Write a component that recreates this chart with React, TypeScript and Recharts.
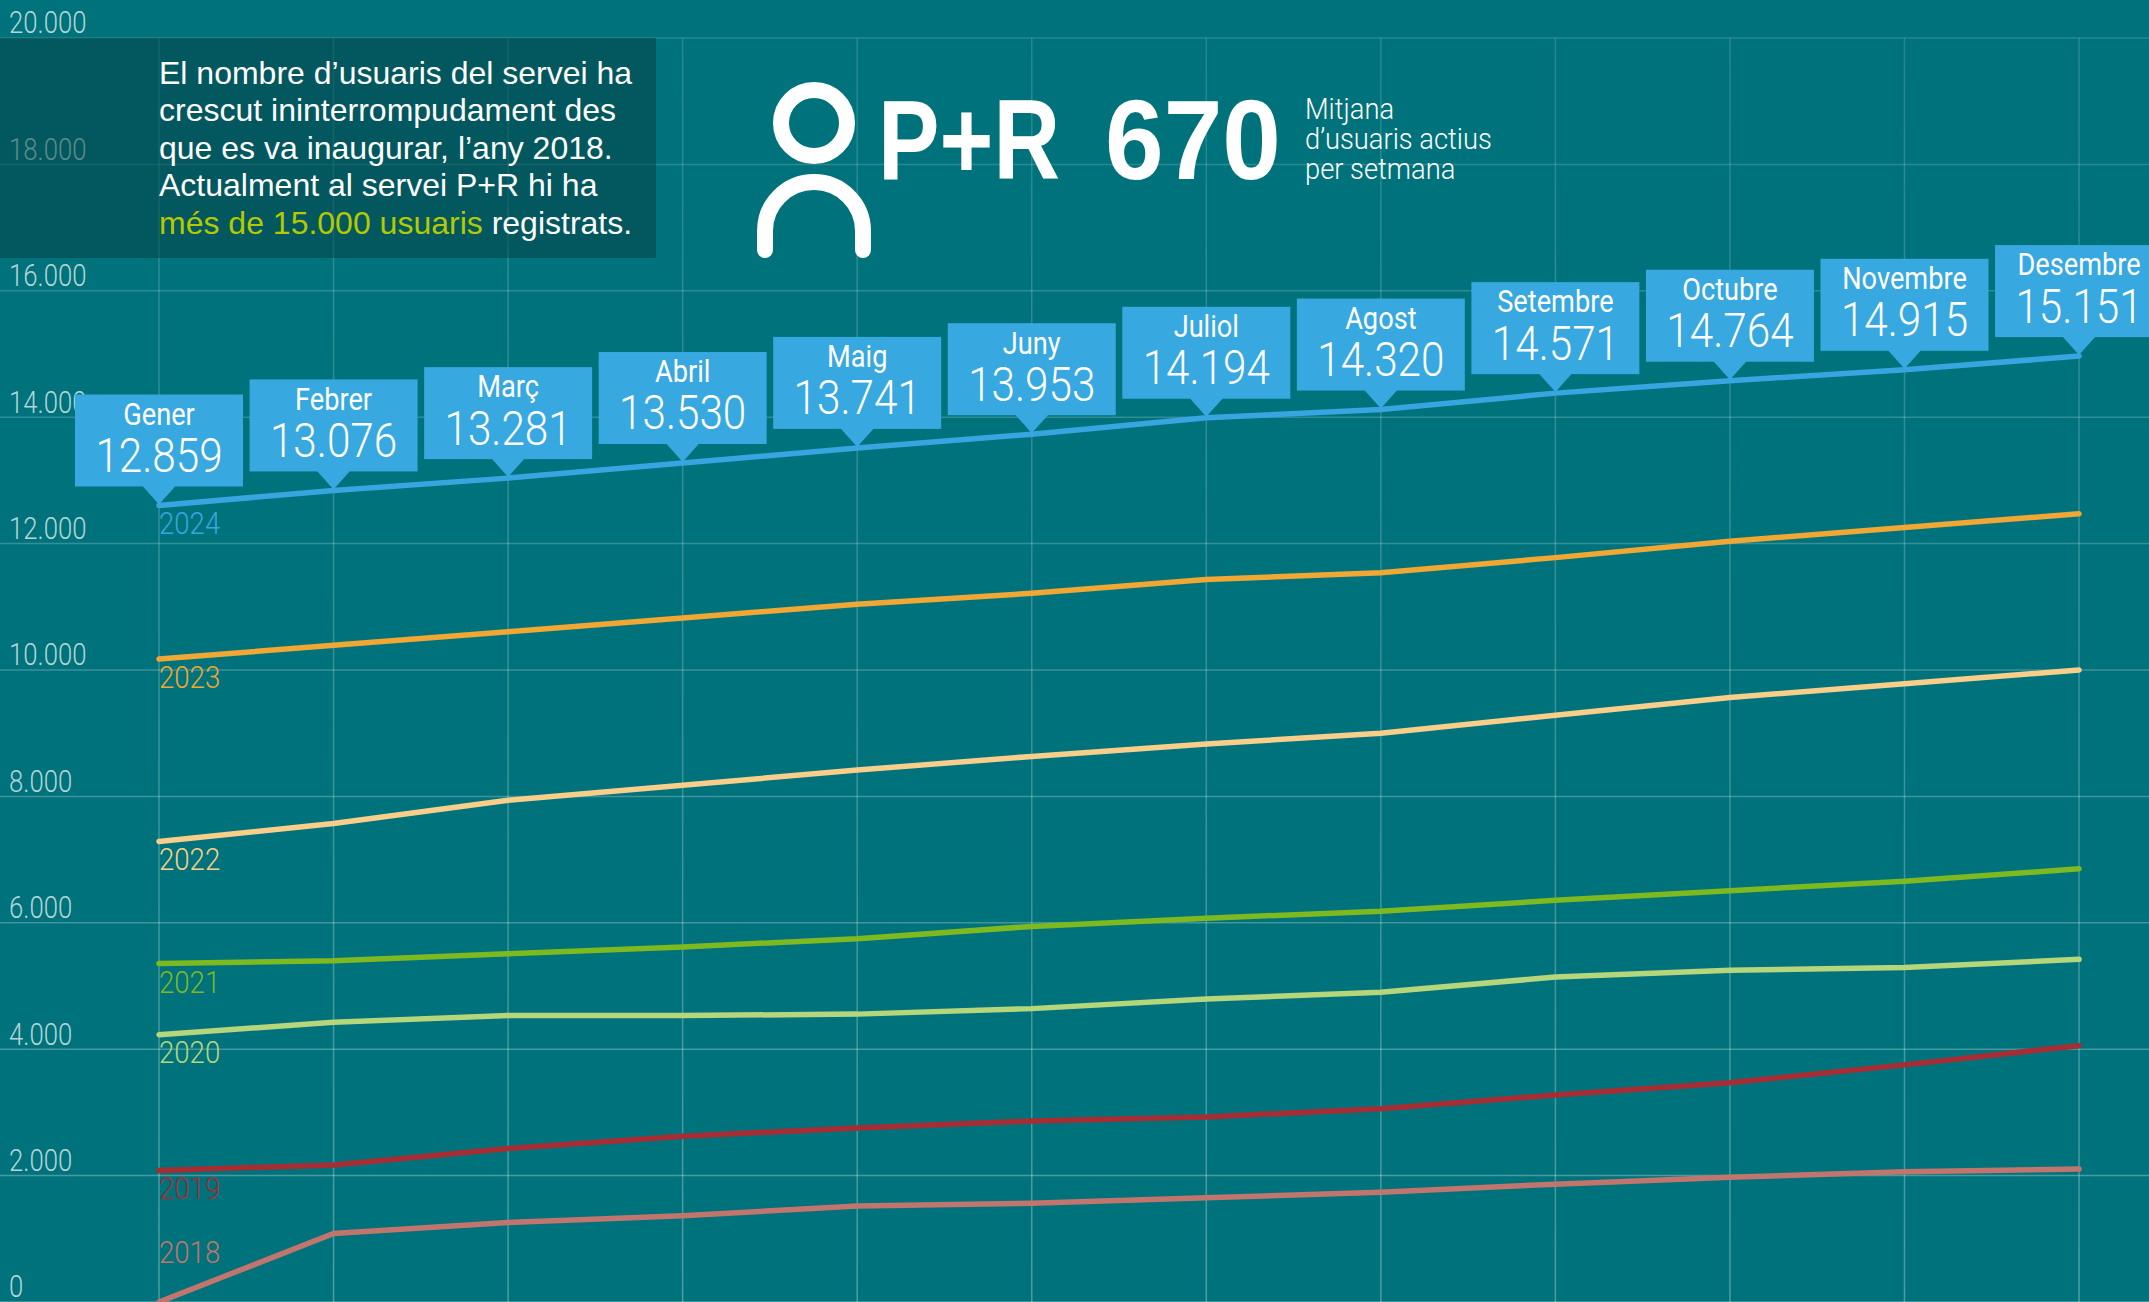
import React from "react";
import { LineChart, Line, XAxis, YAxis, CartesianGrid, LabelList, ReferenceLine } from "recharts";

const W = 2149;
const H = 1302;
const months = ["Gener", "Febrer", "Març", "Abril", "Maig", "Juny", "Juliol", "Agost", "Setembre", "Octubre", "Novembre", "Desembre"];
const published2024 = ["12.859", "13.076", "13.281", "13.530", "13.741", "13.953", "14.194", "14.320", "14.571", "14.764", "14.915", "15.151"];
const s2024 = [12603, 12841, 13036, 13275, 13514, 13731, 13991, 14121, 14381, 14577, 14750, 14967];
const s2023 = [10173, 10390, 10606, 10823, 11040, 11214, 11431, 11539, 11778, 12038, 12255, 12472];
const s2022 = [7288, 7570, 7939, 8177, 8416, 8633, 8828, 9001, 9283, 9565, 9782, 9999];
const s2021 = [5357, 5401, 5509, 5618, 5748, 5943, 6073, 6182, 6355, 6507, 6659, 6854];
const s2020 = [4230, 4425, 4533, 4533, 4555, 4642, 4793, 4902, 5141, 5249, 5292, 5423];
const s2019 = [2082, 2169, 2429, 2624, 2755, 2863, 2928, 3058, 3275, 3470, 3752, 4056];
const s2018 = [0, 1084, 1258, 1366, 1518, 1562, 1648, 1735, 1865, 1974, 2060, 2104];
const yTicks = [0, 2000, 4000, 6000, 8000, 10000, 12000, 14000, 16000, 18000, 20000];
const yLabels = ["0", "2.000", "4.000", "6.000", "8.000", "10.000", "12.000", "14.000", "16.000", "18.000", "20.000"];
const introLines = ["El nombre d’usuaris del servei ha", "crescut ininterrompudament des", "que es va inaugurar, l’any 2018.", "Actualment al servei P+R hi ha"];
const statLines = ["Mitjana", "d’usuaris actius", "per setmana"];

const seriesList = [
  { year: "2018", key: "s2018", values: s2018, color: "#c2756c", dy: -50 },
  { year: "2019", key: "s2019", values: s2019, color: "#a52d33", dy: 18 },
  { year: "2020", key: "s2020", values: s2020, color: "#b5d67a", dy: 18 },
  { year: "2021", key: "s2021", values: s2021, color: "#7db91f", dy: 19 },
  { year: "2022", key: "s2022", values: s2022, color: "#f8cf8a", dy: 18 },
  { year: "2023", key: "s2023", values: s2023, color: "#f0a733", dy: 18 },
  { year: "2024", key: "s2024", values: s2024, color: "#37a6e0", dy: 18 },
];

const table = months.map((month, i) => {
  const row: Record<string, number | string> = { i, month };
  seriesList.forEach((s) => { row[s.key] = s.values[i]; });
  return row;
});

const monthIndex = months.map((_, i) => i);
const STEP = 174.55;
const X0 = 159;
const xDomain = [-X0 / STEP, (W - X0) / STEP];
const FONT = "Roboto, 'Liberation Sans', sans-serif";

function Squeezed({ x, y, sx, size, fill, weight = 300, anchor = "middle", children }: any) {
  return (
    <text
      transform={`translate(${x},${y}) scale(${sx},1)`}
      textAnchor={anchor}
      dominantBaseline="central"
      fontFamily={FONT}
      fontWeight={weight}
      fontSize={size}
      fill={fill}
    >
      {children}
    </text>
  );
}

function YTick({ y, payload }: any) {
  const idx = yTicks.indexOf(payload.value);
  return (
    <Squeezed x={9} y={y - 15} sx={0.83} size={31} fill="#b4d6d8" anchor="start">
      {yLabels[idx]}
    </Squeezed>
  );
}

function Callout({ x, y, index }: any) {
  const w = 168;
  const h = 92;
  const gap = 19;
  const top = y - gap - h;
  return (
    <g>
      <rect x={x - w / 2} y={top} width={w} height={h} fill="#37a8e0" />
      <polygon points={`${x - 17},${top + h - 1} ${x + 17},${top + h - 1} ${x},${y - 1}`} fill="#37a8e0" />
      <Squeezed x={x} y={top + 19} sx={0.85} size={32} fill="#ffffff" weight={400}>{months[index]}</Squeezed>
      <Squeezed x={x} y={top + 61} sx={0.88} size={48} fill="#ffffff">{published2024[index]}</Squeezed>
    </g>
  );
}

function yearLabel(year: string, color: string, dy: number) {
  return function YearLabel({ x, y, index }: any) {
    if (index !== 0) return null;
    return (
      <Squeezed x={x} y={y + dy} sx={0.89} size={31} fill={color} anchor="start">{year}</Squeezed>
    );
  };
}

export default function App() {
  return (
    <div style={{ position: "absolute", left: 0, top: 0, width: W, height: H, overflow: "hidden", background: "#00727b" }}>
      <LineChart width={W} height={H} data={table} margin={{ top: 38, right: 0, bottom: -1, left: -1 }}>
        <defs>
          <linearGradient id="gridFade" gradientUnits="userSpaceOnUse" x1="0" y1="0" x2="0" y2={H}>
            <stop offset="0" stopColor="#ffffff" stopOpacity={0.14} />
            <stop offset="1" stopColor="#ffffff" stopOpacity={0.3} />
          </linearGradient>
        </defs>
        <CartesianGrid stroke="url(#gridFade)" strokeWidth={1.5} vertical={false} horizontalValues={yTicks} />
        <XAxis dataKey="i" type="number" domain={xDomain} ticks={monthIndex} allowDataOverflow height={1} tick={false} axisLine={false} tickLine={false} />
        <YAxis type="number" domain={[0, 20000]} ticks={yTicks} width={1} tick={<YTick />} axisLine={false} tickLine={false} interval={0} allowDataOverflow />
        {monthIndex.map((i) => (
          <ReferenceLine key={i} x={i} stroke="url(#gridFade)" strokeWidth={1.5} />
        ))}
        {seriesList.map((s) => (
          <Line key={s.key} dataKey={s.key} stroke={s.color} strokeWidth={5.5} strokeLinecap="round" dot={false} isAnimationActive={false}>
            <LabelList dataKey={s.key} content={yearLabel(s.year, s.color, s.dy)} />
            {s.year === "2024" ? <LabelList dataKey={s.key} content={<Callout />} /> : null}
          </Line>
        ))}
      </LineChart>

      <div style={{ position: "absolute", left: 0, top: 38, width: 656, height: 220, background: "rgba(3,62,66,0.5)" }} />
      <div style={{ position: "absolute", left: 159, top: 55, fontFamily: "'Liberation Sans', sans-serif", fontSize: 32, lineHeight: "37.4px", color: "#fff", whiteSpace: "nowrap" }}>
        {introLines.map((l) => <div key={l}>{l}</div>)}
        <div><span style={{ color: "#b5c900" }}>més de 15.000 usuaris</span> registrats.</div>
      </div>

      <svg width={W} height={H} style={{ position: "absolute", left: 0, top: 0, pointerEvents: "none" }}>
        <circle cx={814} cy={123} r={33} fill="none" stroke="#fff" strokeWidth={16} />
        <path d="M765 250 V231 A49 49 0 0 1 863 231 V250" fill="none" stroke="#fff" strokeWidth={16} strokeLinecap="round" />
        <text x={878} y={179} fontFamily="'Liberation Sans'" fontWeight={700} fontSize={114} fill="#fff" textLength={182} lengthAdjust="spacingAndGlyphs">P+R</text>
        <text x={1105} y={179} fontFamily="'Liberation Sans'" fontWeight={700} fontSize={114} fill="#fff" textLength={176} lengthAdjust="spacingAndGlyphs">670</text>
        {statLines.map((l, i) => (
          <Squeezed key={l} x={1305} y={109 + i * 30} sx={0.91} size={30} fill="#ffffff" anchor="start">{l}</Squeezed>
        ))}
      </svg>
    </div>
  );
}
